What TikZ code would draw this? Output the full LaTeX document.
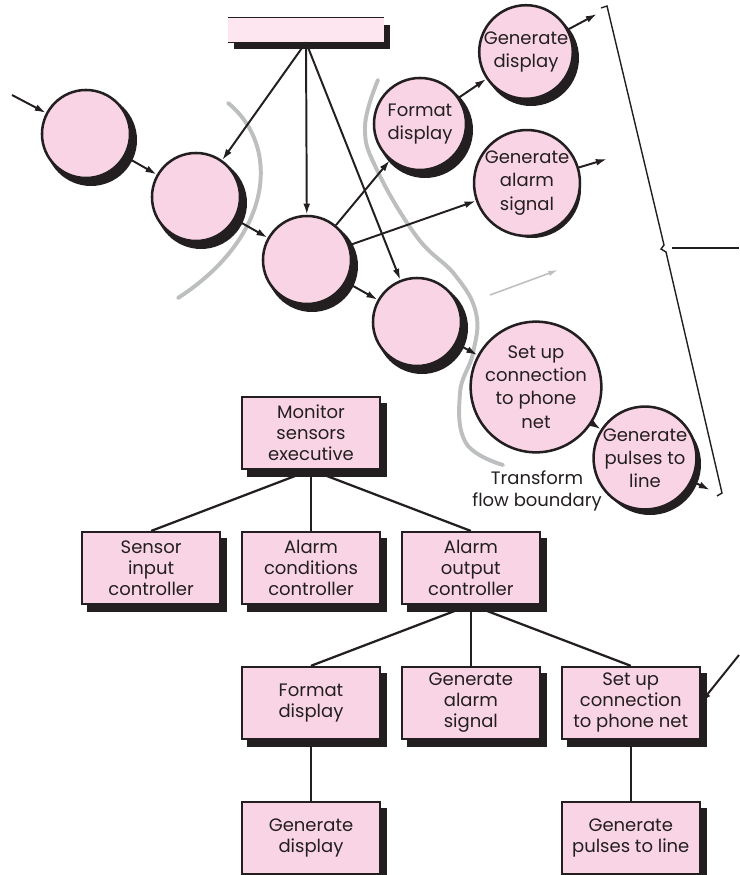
\documentclass[tikz,border=0pt]{standalone}
\usepackage{fontspec}
\setmainfont{Poppins}
\usepackage{tikz}
\usetikzlibrary{arrows.meta,positioning,backgrounds}
\definecolor{bubble}{HTML}{F9D4E4}
\definecolor{storefill}{HTML}{FDE6EF}
\definecolor{ink}{HTML}{231F20}
\definecolor{bound}{HTML}{BCBEC0}

\begin{document}
\begin{tikzpicture}[
    x=0.025cm, y=-0.025cm,
    node distance=1.525cm and 0.5cm,
    proc/.style={circle, draw=ink, line width=1.8pt, fill=bubble, align=center, inner sep=0pt, text=ink, font=\fontsize{12.8}{16.5}\selectfont},
    module/.style={rectangle, draw=ink, line width=1.3pt, fill=bubble, align=center, inner sep=2pt, minimum width=3.45cm, minimum height=1.8cm, text=ink, font=\fontsize{12.8}{15}\selectfont},
    store/.style={rectangle, draw=none, fill=storefill, minimum width=3.9cm, minimum height=0.6cm, inner sep=0pt},
    arr/.style={-{Latex[length=2.8mm,width=1.7mm]}, line width=1.4pt, draw=ink},
    link/.style={line width=1.6pt, draw=ink},
    boundary/.style={line width=2.8pt, draw=bound, line cap=round}
  ]
    \useasboundingbox (0,0) rectangle (739,875);

    \draw[boundary] (228,103) .. controls (280,145) and (275,235) .. (178,298);
    \draw[boundary] plot[smooth, tension=0.7] coordinates {(378,80) (365,127) (377,170) (417,237) (455,275) (476,313) (473,353) (460,393) (466,443) (503,465)};

    \node[store] (store) at (306,30) {};
    \draw[ink, line width=0.8pt] (store.north west) -- (store.north east);
    \draw[ink, line width=0.8pt] (store.south west) -- (store.south east);

    \node[proc, minimum size=2.2cm] (c1) at (86,134) {};
    \node[proc, minimum size=2.2cm] (c2) at (196,197) {};
    \node[proc, minimum size=2.2cm] (c3) at (307,260) {};
    \node[proc, minimum size=2.2cm] (c4) at (417,322) {};
    \node[proc, minimum size=2.3cm] (fmt) at (420,124) {Format\\ display};
    \node[proc, minimum size=2.3cm] (gdsp) at (526,52) {Generate\\ display};
    \node[proc, minimum size=2.35cm] (galm) at (527,183) {Generate\\ alarm\\ signal};
    \node[proc, minimum size=2.6cm] (conn) at (536,387) {Set up\\ connection\\ to phone\\ net};
    \node[proc, minimum size=2.45cm] (puls) at (645,458) {Generate\\ pulses to\\ line};

    \coordinate (in) at (12,95);
    \coordinate (dspout) at (597,14);
    \coordinate (almout) at (607,159);
    \coordinate (plsout) at (710,490);
    \coordinate (gs) at (490,295);
    \coordinate (ge) at (558,270);

    \draw[arr] (in) -- (c1);
    \draw[arr] (c1) -- (c2);
    \draw[arr] (c2) -- (c3);
    \draw[arr] (c3) -- (c4);
    \draw[arr] (c4) -- (conn);
    \draw[arr] (conn) -- (puls);
    \draw[arr] (puls) -- (plsout);
    \draw[arr] (store.south) -- (c2);
    \draw[arr] (store.south) -- (c3);
    \draw[arr] (store.south) -- (c4);
    \draw[arr] (c3) -- (fmt);
    \draw[arr] (fmt) -- (gdsp);
    \draw[arr] (gdsp) -- (dspout);
    \draw[arr] (c3) -- (galm);
    \draw[arr] (galm) -- (almout);
    \draw[-{Latex[length=2.4mm,width=1.4mm]}, line width=1.1pt, bound] (gs) -- (ge);

    \draw[ink, line width=1pt] (601,8) -- (607,6) -- (664,245) -- (661,249) -- (666,252) -- (722,493) -- (717,496);
    \draw[link] (672,248) -- (739,248);

    \node[text=ink, align=center, font=\fontsize{12.8}{15.5}\selectfont] (tfb) at (537,491) {Transform\\ flow boundary};

    \node[module] (mon) at (311,433) {Monitor\\ sensors\\ executive};
    \node[module, below=of mon] (acond) {Alarm\\ conditions\\ controller};
    \node[module, left=of acond] (sens) {Sensor\\ input\\ controller};
    \node[module, right=of acond] (aout) {Alarm\\ output\\ controller};
    \node[module, below=of aout] (agen) {Generate\\ alarm\\ signal};
    \node[module, left=of agen] (fdsp) {Format\\ display};
    \node[module, right=of agen] (setup) {Set up\\ connection\\ to phone net};
    \node[module, below=of fdsp] (gdisp) {Generate\\ display};
    \node[module, below=of setup] (gpuls) {Generate\\ pulses to line};

    \draw[link] (mon.south) -- (sens.north);
    \draw[link] (mon.south) -- (acond.north);
    \draw[link] (mon.south) -- (aout.north);
    \draw[link] (aout.south) -- (fdsp.north);
    \draw[link] (aout.south) -- (agen.north);
    \draw[link] (aout.south) -- (setup.north);
    \draw[link] (fdsp) -- (gdisp);
    \draw[link] (setup) -- (gpuls);

    \coordinate (tap) at (739,655);
    \draw[arr] (tap) -- (setup.east);

    \begin{scope}[on background layer]
      \foreach \n/\r in {c1/46, c2/46, c3/46, c4/46, fmt/48, gdsp/48, galm/49, conn/54, puls/51}
        \fill[ink] ([shift={(5,6)}]\n.center) circle[radius=\r];
      \foreach \n in {store, mon, acond, sens, aout, agen, fdsp, setup, gdisp, gpuls}
        \fill[ink] ([shift={(6,7)}]\n.north west) rectangle ([shift={(6,7)}]\n.south east);
    \end{scope}
  \end{tikzpicture}
\end{document}
